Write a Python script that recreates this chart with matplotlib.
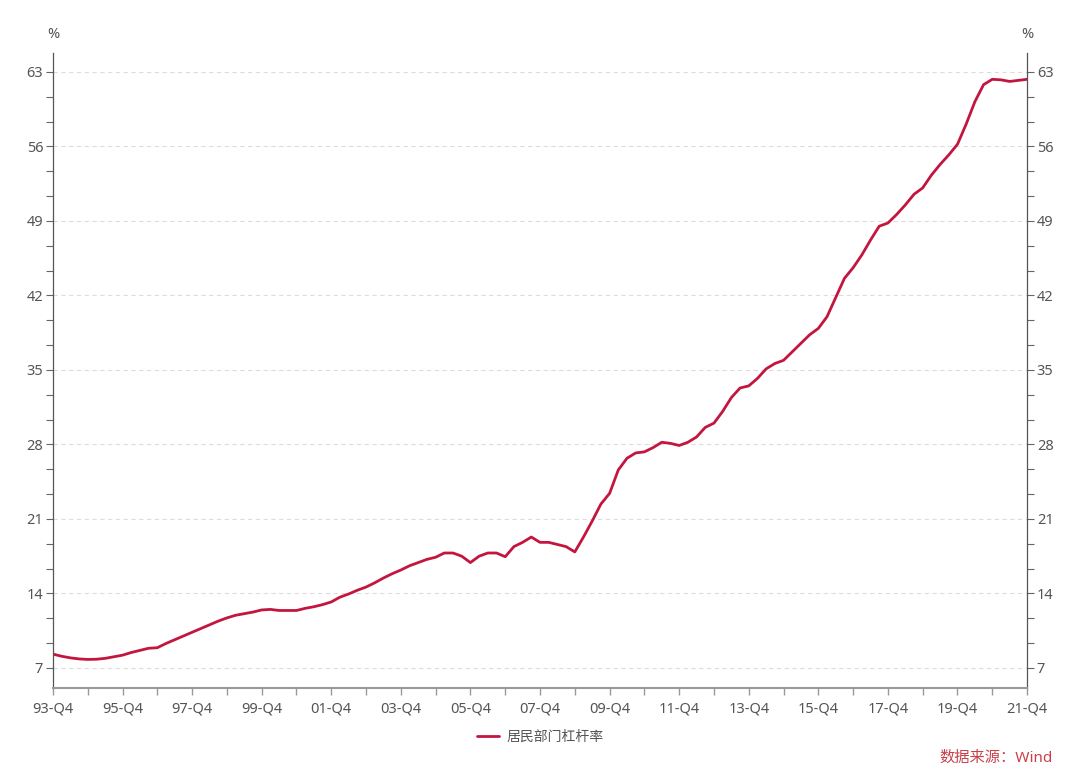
import numpy as np
import matplotlib
matplotlib.use("Agg")
import matplotlib.pyplot as plt
from matplotlib.ticker import MultipleLocator, FixedLocator

plt.rcParams['font.family'] = ['Noto Sans', 'Noto Sans CJK SC', 'DejaVu Sans']

# 季度数据: 1993-Q4 ~ 2021-Q4
quarters = ["93-Q4"] + [f"{y % 100:02d}-Q{q}" for y in range(1994, 2022) for q in range(1, 5)]
leverage = [
    8.3,
    8.1, 7.95, 7.85, 7.8,      # 94
    7.82, 7.9, 8.05, 8.2,      # 95
    8.45, 8.65, 8.85, 8.9,     # 96
    9.3, 9.65, 10.0, 10.35,    # 97
    10.7, 11.05, 11.4, 11.7,   # 98
    11.95, 12.1, 12.25, 12.45, # 99
    12.5, 12.4, 12.4, 12.4,    # 00
    12.6, 12.75, 12.95, 13.2,  # 01
    13.65, 13.95, 14.3, 14.6,  # 02
    15.0, 15.45, 15.85, 16.2,  # 03
    16.6, 16.9, 17.2, 17.4,    # 04
    17.8, 17.8, 17.5, 16.9,    # 05
    17.5, 17.8, 17.8, 17.45,   # 06
    18.4, 18.8, 19.3, 18.8,    # 07
    18.8, 18.6, 18.4, 17.9,    # 08
    19.3, 20.8, 22.4, 23.4,    # 09
    25.6, 26.7, 27.2, 27.3,    # 10
    27.7, 28.2, 28.1, 27.9,    # 11
    28.2, 28.7, 29.6, 30.0,    # 12
    31.1, 32.4, 33.3, 33.5,    # 13
    34.2, 35.1, 35.6, 35.9,    # 14
    36.7, 37.5, 38.3, 38.9,    # 15
    40.0, 41.8, 43.6, 44.6,    # 16
    45.8, 47.2, 48.5, 48.8,    # 17
    49.6, 50.5, 51.5, 52.1,    # 18
    53.3, 54.3, 55.2, 56.2,    # 19
    58.1, 60.2, 61.8, 62.3,    # 20
    62.25, 62.1, 62.2, 62.3,   # 21
]
yticks = [7, 14, 21, 28, 35, 42, 49, 56, 63]
series_name = "居民部门杠杆率"

line_color = "#c3163f"
text_color = "#555555"

fig = plt.figure(figsize=(10.8, 7.75), dpi=100)
ax = fig.add_axes([0.049, 0.1123, 0.902, 0.8197])

x = np.arange(len(quarters))
ax.plot(x, leverage, color=line_color, lw=2.0, solid_capstyle="round",
        solid_joinstyle="round", label=series_name)

ax.set_xlim(0, len(quarters) - 1)
ax.set_ylim(5.12, 64.8)

# x轴: 每两年一个标签
ax.set_xticks(x[::8])
ax.set_xticklabels(quarters[::8])
ax.xaxis.set_minor_locator(MultipleLocator(4))

ax.set_yticks(yticks)
ax.yaxis.set_minor_locator(FixedLocator([v + d for v in yticks for d in (7 / 3, 14 / 3) if v + d < 64.8]))

ax.tick_params(axis="both", which="both", direction="out", colors="#666666",
               labelcolor=text_color, labelsize=10.5)
ax.tick_params(axis="y", which="major", length=5, width=0.8, left=True, right=True,
               labelleft=True, labelright=True, pad=2)
ax.tick_params(axis="y", which="minor", length=5, width=0.8, left=True, right=True)
ax.tick_params(axis="x", which="both", length=5, width=1.0, colors="#999999",
               labelcolor=text_color, pad=5)

ax.grid(axis="y", which="major", linestyle=(0, (4, 3)), color="#dddddd", lw=0.8)
ax.set_axisbelow(True)

for s in ("left", "right"):
    ax.spines[s].set_color("#555555")
    ax.spines[s].set_linewidth(0.9)
ax.spines["top"].set_visible(False)
ax.spines["bottom"].set_color("#999999")
ax.spines["bottom"].set_linewidth(1.5)

fig.text(0.049, 0.955, "%", ha="center", va="center", fontsize=10.5, color=text_color)
fig.text(0.951, 0.955, "%", ha="center", va="center", fontsize=10.5, color=text_color)

leg = ax.legend(loc="center", bbox_to_anchor=(0.5, -0.078), frameon=False,
                fontsize=10, handlelength=1.6, handletextpad=0.5)
for t in leg.get_texts():
    t.set_color(text_color)

fig.text(0.975, 0.022, "数据来源：Wind", ha="right", va="center", fontsize=11,
         color="#c8404a")

fig.savefig("out.png", dpi=100, facecolor="white")
